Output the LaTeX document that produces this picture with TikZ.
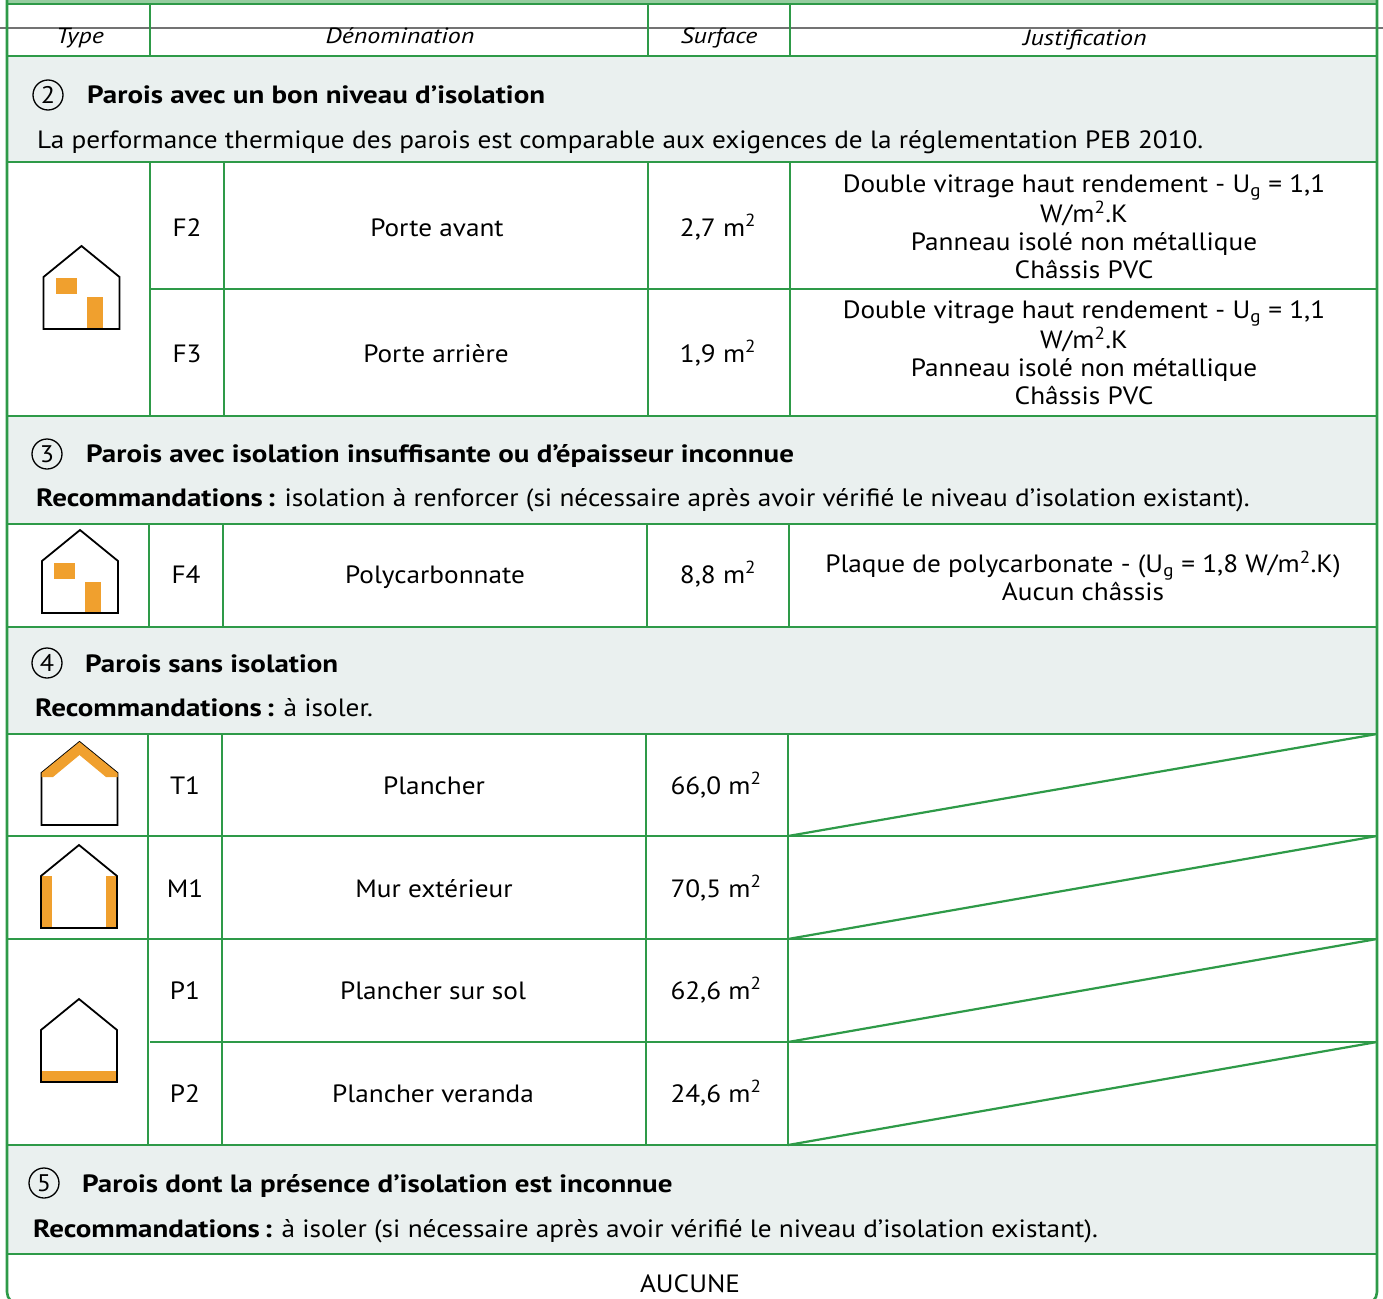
\documentclass[tikz,border=0pt]{standalone}
\usepackage{fontspec}
\setmainfont{PT Sans}[UprightFeatures={FakeStretch=1.09},BoldFeatures={FakeStretch=1.16},ItalicFeatures={FakeStretch=1.18}]
\definecolor{grn}{RGB}{46,154,72}
\definecolor{band}{RGB}{234,240,239}
\definecolor{org}{RGB}{240,160,46}
\definecolor{topg}{RGB}{150,205,160}
\newcommand{\myhouse}[2]{%
  \draw[house] ({#1-38},{#2}) -- ({#1+38},{#2}) -- ({#1+38},{#2-52}) -- ({#1},{#2-83}) -- ({#1-38},{#2-52}) -- cycle;}
\tikzset{
  gline/.style={draw=grn, line width=2.6pt},
  txt/.style={font=\fontsize{25}{28}\selectfont, inner sep=0pt},
  hdr/.style={font=\fontsize{22}{26}\selectfont\itshape, inner sep=0pt, anchor=base},
  ttl/.style={font=\fontsize{25}{28}\selectfont\bfseries, inner sep=0pt, anchor=base west},
  subl/.style={txt, anchor=base west},
  cell/.style={txt, anchor=base},
  just/.style={txt, align=center},
  num/.style={draw=black, circle, line width=1.3pt, minimum size=30pt, inner sep=0pt, font=\fontsize{24}{28}\selectfont},
  house/.style={draw=black, line width=1.8pt, line join=miter},
}
\begin{document}
\begin{tikzpicture}[x=1pt,y=-1pt]
\useasboundingbox (0,0) rectangle (1383,1298);
\fill[white] (0,0) rectangle (1383,1298);
% top band
\fill[topg] (7,0) rectangle (1377,4);
% section bands
\fill[band] (7,56) rectangle (1377,162);
\fill[band] (7,416) rectangle (1377,524);
\fill[band] (7,627) rectangle (1377,734);
\fill[band] (7,1145) rectangle (1377,1254);
% stray scan line
\draw[black!55, line width=1.2pt] (0,28) -- (1383,28);
% horizontal lines
\foreach \yy in {4,56,162,416,524,627,734,836,939,1145,1254}
  \draw[gline] (7,\yy) -- (1377,\yy);
\foreach \yy in {289,1042}
  \draw[gline] (150,\yy) -- (1377,\yy);
% vertical lines
\foreach \xx in {150,648,790} \draw[gline] (\xx,4) -- (\xx,56);
\foreach \xx in {150,224,648,790} \draw[gline] (\xx,162) -- (\xx,416);
\foreach \xx in {149,223,647,789} \draw[gline] (\xx,524) -- (\xx,627);
\foreach \xx in {148,222,646,788} \draw[gline] (\xx,734) -- (\xx,1145);
% diagonals
\foreach \ya/\yb in {734/836,836/939,939/1042,1042/1145}
  \draw[grn, line width=2.2pt] (788,\yb) -- (1377,\ya);
% outer border
\draw[gline, rounded corners=12pt] (7,0) -- (7,1304) -- (1377,1304) -- (1377,0);
% header
\node[hdr] (hType) at (80,44) {Type};
\node[hdr] (hDen) at (400,44) {Dénomination};
\node[hdr] (hSurf) at (719,44) {Surface};
\node[hdr] (hJust) at (1085,46) {Justification};
% section 2
\node[num] (n2) at (48,95) {2};
\node[ttl] (t2) at (87,103) {Parois avec un bon niveau d’isolation};
\node[subl] (s2) at (37,148) {La performance thermique des parois est comparable aux exigences de la réglementation PEB 2010.};
% F2 / F3
\node[cell] (cF2) at (187,236) {F2};
\node[cell] (dF2) at (437,236) {Porte avant};
\node[cell] (sF2) at (718,236) {2,7 m\textsuperscript{2}};
\node[just] (jF2) at (1084,227) {Double vitrage haut rendement - U\textsubscript{g} = 1,1\\W/m\textsuperscript{2}.K\\Panneau isolé non métallique\\Châssis PVC};
\node[cell] (cF3) at (187,362) {F3};
\node[cell] (dF3) at (436,362) {Porte arrière};
\node[cell] (sF3) at (718,362) {1,9 m\textsuperscript{2}};
\node[just] (jF3) at (1084,353) {Double vitrage haut rendement - U\textsubscript{g} = 1,1\\W/m\textsuperscript{2}.K\\Panneau isolé non métallique\\Châssis PVC};
% house F2/F3
\fill[org] (55.5,278) rectangle (76.5,294);
\fill[org] (87,297) rectangle (103,329);
\myhouse{81.5}{329}
% section 3
\node[num] (n3) at (47,454) {3};
\node[ttl] (t3) at (86,462) {Parois avec isolation insuffisante ou d’épaisseur inconnue};
\node[subl] (s3) at (36,506) {\textbf{Recommandations\,:} isolation à renforcer (si nécessaire après avoir vérifié le niveau d’isolation existant).};
% F4
\fill[org] (54,563) rectangle (75,579);
\fill[org] (85,582) rectangle (101,613);
\myhouse{80}{613}
\node[cell] (cF4) at (186,583) {F4};
\node[cell] (dF4) at (435,583) {Polycarbonnate};
\node[cell] (sF4) at (718,583) {8,8 m\textsuperscript{2}};
\node[just] (jF4) at (1083,576) {Plaque de polycarbonate - (U\textsubscript{g} = 1,8 W/m\textsuperscript{2}.K)\\Aucun châssis};
% section 4
\node[num] (n4) at (47,663) {4};
\node[ttl] (t4) at (85,672) {Parois sans isolation};
\node[subl] (s4) at (35,716) {\textbf{Recommandations\,:} à isoler.};
% T1
\myhouse{79.5}{825}
\fill[org] (41.5,773) -- (79.5,742) -- (117.5,773) -- (117.5,777) -- (106,777) -- (79.5,755) -- (53,777) -- (41.5,777) -- cycle;
\node[cell] (cT1) at (185,794) {T1};
\node[cell] (dT1) at (434,794) {Plancher};
\node[cell] (sT1) at (716,794) {66,0 m\textsuperscript{2}};
% M1
\fill[org] (42,876) rectangle (52,928);
\fill[org] (106,876) rectangle (116,928);
\myhouse{79}{928}
\node[cell] (cM1) at (185,897) {M1};
\node[cell] (dM1) at (434,897) {Mur extérieur};
\node[cell] (sM1) at (716,897) {70,5 m\textsuperscript{2}};
% P1/P2
\fill[org] (41,1071) rectangle (117,1082);
\myhouse{79}{1082}
\node[cell] (cP1) at (185,999) {P1};
\node[cell] (dP1) at (433,999) {Plancher sur sol};
\node[cell] (sP1) at (716,999) {62,6 m\textsuperscript{2}};
\node[cell] (cP2) at (185,1102) {P2};
\node[cell] (dP2) at (433,1102) {Plancher veranda};
\node[cell] (sP2) at (716,1102) {24,6 m\textsuperscript{2}};
% section 5
\node[num] (n5) at (44,1183) {5};
\node[ttl] (t5) at (82,1192) {Parois dont la présence d’isolation est inconnue};
\node[subl] (s5) at (33,1237) {\textbf{Recommandations\,:} à isoler (si nécessaire après avoir vérifié le niveau d’isolation existant).};
% last row
\node[cell] (aucune) at (690,1292) {AUCUNE};
\end{tikzpicture}
\end{document}
